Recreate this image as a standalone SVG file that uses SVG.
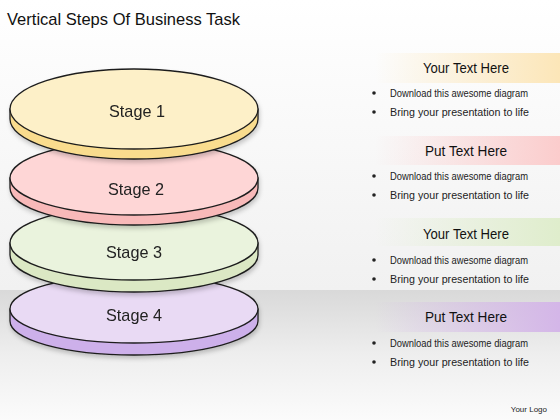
<svg xmlns="http://www.w3.org/2000/svg" width="560" height="420" viewBox="0 0 560 420">
<defs>
<linearGradient id="bgTop" x1="0" y1="0" x2="0" y2="1">
<stop offset="0" stop-color="#ffffff"/><stop offset="1" stop-color="#f1f1f1"/>
</linearGradient>
<linearGradient id="bgBot" x1="0" y1="0" x2="0" y2="1">
<stop offset="0" stop-color="#d9d9d9"/><stop offset="0.5" stop-color="#eeeeee"/><stop offset="1" stop-color="#fbfbfb"/>
</linearGradient>
<linearGradient id="b1" x1="0" y1="0" x2="1" y2="0"><stop offset="0" stop-color="#fce6b8" stop-opacity="0"/><stop offset="1" stop-color="#fce6b8"/></linearGradient>
<linearGradient id="b2" x1="0" y1="0" x2="1" y2="0"><stop offset="0" stop-color="#fbcccc" stop-opacity="0"/><stop offset="1" stop-color="#fbcccc"/></linearGradient>
<linearGradient id="b3" x1="0" y1="0" x2="1" y2="0"><stop offset="0" stop-color="#dfedcc" stop-opacity="0"/><stop offset="1" stop-color="#dfedcc"/></linearGradient>
<linearGradient id="b4" x1="0" y1="0" x2="1" y2="0"><stop offset="0" stop-color="#d4b6e8" stop-opacity="0"/><stop offset="1" stop-color="#d4b6e8"/></linearGradient>
<filter id="sh" x="-10%" y="-20%" width="120%" height="150%">
<feDropShadow dx="1" dy="3" stdDeviation="2" flood-color="#000" flood-opacity="0.2"/>
</filter>
<style>
.edge{stroke:#1e1e1e;stroke-width:1.3;stroke-linejoin:round}
.stage{font-family:"Liberation Sans",Arial,sans-serif;font-size:17px;fill:#222;text-anchor:middle}
.hdr{font-family:"Liberation Sans",Arial,sans-serif;font-size:14px;fill:#111;text-anchor:middle}
.bul{font-family:"Liberation Sans",Arial,sans-serif;font-size:10.5px;fill:#222}
.dot{fill:#222}
</style>
</defs>

<rect x="0" y="0" width="560" height="290" fill="url(#bgTop)"/>
<rect x="0" y="290" width="560" height="130" fill="url(#bgBot)"/>

<text x="7" y="25" font-family="Liberation Sans, Arial, sans-serif" font-size="17" fill="#111" textLength="233" lengthAdjust="spacingAndGlyphs">Vertical Steps Of Business Task</text>

<g id="stage4" filter="url(#sh)">
<path class="edge" fill="#cdb0ea" d="M10,309 L10,321 A124,34 0 0 0 258,321 L258,309 Z"/>
<ellipse class="edge" cx="134" cy="309" rx="124" ry="34" fill="#e9daf4"/>
<text class="stage" x="134" y="321" textLength="56" lengthAdjust="spacingAndGlyphs">Stage  4</text>
</g>
<g id="stage3" filter="url(#sh)">
<path class="edge" fill="#dbe8c4" d="M10,243 L10,255 A124,37 0 0 0 258,255 L258,243 Z"/>
<ellipse class="edge" cx="134" cy="243" rx="124" ry="37" fill="#eaf3dd"/>
<text class="stage" x="134" y="258" textLength="56" lengthAdjust="spacingAndGlyphs">Stage  3</text>
</g>
<g id="stage2" filter="url(#sh)">
<path class="edge" fill="#f8b9b9" d="M10,178 L10,188 A124,37 0 0 0 258,188 L258,178 Z"/>
<ellipse class="edge" cx="134" cy="178" rx="124" ry="37" fill="#fed6d6"/>
<text class="stage" x="136" y="195" textLength="56" lengthAdjust="spacingAndGlyphs">Stage  2</text>
</g>
<g id="stage1" filter="url(#sh)">
<path class="edge" fill="#f9dc8e" d="M10,109 L10,119 A124,40 0 0 0 258,119 L258,109 Z"/>
<ellipse class="edge" cx="134" cy="109" rx="124" ry="40" fill="#fdf0c8"/>
<text class="stage" x="137" y="117" textLength="56" lengthAdjust="spacingAndGlyphs">Stage  1</text>
</g>

<g id="text1">
<rect x="375" y="53" width="185" height="30" fill="url(#b1)"/>
<text class="hdr" x="466" y="73" textLength="86" lengthAdjust="spacingAndGlyphs">Your Text Here</text>
<circle class="dot" cx="374" cy="93" r="1.8"/>
<text class="bul" x="390" y="97" textLength="138" lengthAdjust="spacingAndGlyphs">Download this awesome diagram</text>
<circle class="dot" cx="374" cy="112" r="1.8"/>
<text class="bul" x="390" y="116" textLength="139" lengthAdjust="spacingAndGlyphs">Bring your presentation to life</text>
</g>
<g id="text2">
<rect x="375" y="136" width="185" height="29" fill="url(#b2)"/>
<text class="hdr" x="466" y="156" textLength="82" lengthAdjust="spacingAndGlyphs">Put Text Here</text>
<circle class="dot" cx="374" cy="176" r="1.8"/>
<text class="bul" x="390" y="180" textLength="138" lengthAdjust="spacingAndGlyphs">Download this awesome diagram</text>
<circle class="dot" cx="374" cy="195" r="1.8"/>
<text class="bul" x="390" y="199" textLength="139" lengthAdjust="spacingAndGlyphs">Bring your presentation to life</text>
</g>
<g id="text3">
<rect x="375" y="218" width="185" height="28" fill="url(#b3)"/>
<text class="hdr" x="466" y="239" textLength="86" lengthAdjust="spacingAndGlyphs">Your Text Here</text>
<circle class="dot" cx="374" cy="260" r="1.8"/>
<text class="bul" x="390" y="264" textLength="138" lengthAdjust="spacingAndGlyphs">Download this awesome diagram</text>
<circle class="dot" cx="374" cy="279" r="1.8"/>
<text class="bul" x="390" y="283" textLength="139" lengthAdjust="spacingAndGlyphs">Bring your presentation to life</text>
</g>
<g id="text4">
<rect x="375" y="302" width="185" height="30" fill="url(#b4)"/>
<text class="hdr" x="466" y="322" textLength="82" lengthAdjust="spacingAndGlyphs">Put Text Here</text>
<circle class="dot" cx="374" cy="343" r="1.8"/>
<text class="bul" x="390" y="347" textLength="138" lengthAdjust="spacingAndGlyphs">Download this awesome diagram</text>
<circle class="dot" cx="374" cy="362" r="1.8"/>
<text class="bul" x="390" y="366" textLength="139" lengthAdjust="spacingAndGlyphs">Bring your presentation to life</text>
</g>

<text x="547" y="412" font-family="Liberation Sans, Arial, sans-serif" font-size="8" fill="#222" text-anchor="end">Your Logo</text>
</svg>
